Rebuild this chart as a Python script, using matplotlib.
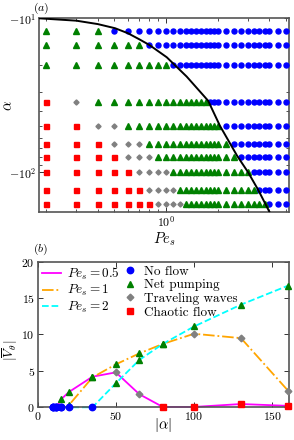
import numpy as np
import matplotlib
matplotlib.use("Agg")
import matplotlib.pyplot as plt
from matplotlib.ticker import FixedLocator, FuncFormatter, NullFormatter, LogLocator
from matplotlib.lines import Line2D

plt.rcParams["font.family"] = "serif"
plt.rcParams["font.serif"] = ["cmr10", "DejaVu Serif"]
plt.rcParams["mathtext.fontset"] = "cm"
plt.rcParams["axes.formatter.use_mathtext"] = True

# ==========================================
# DATA - panel (a) phase diagram
# ==========================================

pe_grid = [0.2, 0.3, 0.4, 0.5, 0.6, 0.7, 0.8, 0.9, 1.0,
           1.1, 1.2, 1.3, 1.4, 1.5, 1.6, 1.7, 1.8, 1.9, 2.0,
           2.25, 2.5, 2.75, 3.0, 3.25, 3.5, 3.75, 4.0, 4.5, 5.0]
alpha_rows = [12, 15, 20, 35, 50, 65, 80, 100, 130, 160]   # |alpha|

# last Pe_s of each regime along every row (0 = regime absent)
chaotic_upto = [0, 0, 0, 0.2, 0.3, 0.4, 0.5, 0.6, 0.7, 0.8]
waves_upto = [0, 0, 0, 0.3, 0.5, 0.7, 0.8, 1.0, 1.1, 1.2]
pumping_upto = [0.4, 0.7, 1.0, 1.7, 2.0, 2.25, 2.5, 3.0, 3.25, 3.75]

# stability boundary
curve_pe = [0.182, 0.30, 0.40, 0.505, 0.60, 0.70, 0.80, 1.01, 1.32, 1.76,
            2.06, 2.60, 3.01, 3.45, 4.0]
curve_alpha = [10.0, 10.36, 10.9, 11.6, 12.5, 13.7, 14.9, 17.9, 23.9, 34.3,
               49.8, 78.3, 100, 130.4, 180]

# ==========================================
# DATA - panel (b) mean velocity
# ==========================================

alpha_b = [10, 12, 15, 20, 35, 50, 65, 80, 100, 130, 160]
v_pe05 = [0, 0, 1.1, 2.1, 4.2, 4.8, 1.8, 0.05, 0.05, 0.45, 0.2]
state_pe05 = ["n", "n", "p", "p", "p", "t", "t", "c", "c", "c", "c"]
v_pe1 = [0, 0, 0, 0.3, 4.1, 5.9, 7.4, 8.7, 10.1, 9.5, 2.3]
state_pe1 = ["n", "n", "n", "p", "p", "p", "p", "p", "t", "t", "t"]
v_pe2 = [0, 0, 0, 0, 0, 3.3, 6.5, 8.7, 11.1, 14.1, 16.7]
state_pe2 = ["n", "n", "n", "n", "n", "p", "p", "p", "p", "p", "p"]

# ==========================================
# STYLES
# ==========================================

styles = {
    "n": dict(marker="o", color="#0000ff", label="No flow"),
    "p": dict(marker="^", color="#008000", label="Net pumping"),
    "t": dict(marker="D", color="#808080", label="Traveling waves"),
    "c": dict(marker="s", color="#ff0000", label="Chaotic flow"),
}
size_a = {"n": 3.6, "p": 3.8, "t": 2.6, "c": 3.6}
size_b = {"n": 4.6, "p": 4.8, "t": 3.4, "c": 4.6}
spine_col = "#555555"

fig = plt.figure(figsize=(2.94, 4.40), dpi=100)


def style_axes(ax):
    for s in ax.spines.values():
        s.set_color(spine_col)
        s.set_linewidth(1.2)
    ax.tick_params(which="both", direction="in", top=True, right=True,
                   color="#333333", labelsize=8.5, pad=2)
    ax.tick_params(which="major", length=3.5, width=0.7)
    ax.tick_params(which="minor", length=2.2, width=0.6)


# ==========================================
# PANEL (a)
# ==========================================

ax1 = fig.add_axes([0.1327, 0.5189, 0.849, 0.4395])

groups = {k: ([], []) for k in styles}
for i, a in enumerate(alpha_rows):
    for pe in pe_grid:
        if pe <= chaotic_upto[i]:
            k = "c"
        elif pe <= waves_upto[i]:
            k = "t"
        elif pe <= pumping_upto[i]:
            k = "p"
        else:
            k = "n"
        groups[k][0].append(pe)
        groups[k][1].append(a)

for k, (xs, ys) in groups.items():
    st = styles[k]
    ax1.plot(xs, ys, ls="none", marker=st["marker"], color=st["color"],
             mec=st["color"], ms=size_a[k], clip_on=False, zorder=3)

ax1.plot(curve_pe, curve_alpha, color="black", lw=1.4, zorder=4)

ax1.set_xscale("log")
ax1.set_yscale("log")
ax1.set_xlim(0.182, 5.18)
ax1.set_ylim(180, 10)
ax1.xaxis.set_major_locator(FixedLocator([1.0]))
ax1.xaxis.set_major_formatter(FuncFormatter(lambda v, p: r"$10^{0}$"))
ax1.xaxis.set_minor_locator(LogLocator(base=10, subs=np.arange(2, 10)))
ax1.xaxis.set_minor_formatter(NullFormatter())
ax1.yaxis.set_major_locator(FixedLocator([10, 100]))
ax1.yaxis.set_major_formatter(
    FuncFormatter(lambda v, p: r"$-10^{%d}$" % round(np.log10(v))))
ax1.yaxis.set_minor_locator(LogLocator(base=10, subs=np.arange(2, 10)))
ax1.yaxis.set_minor_formatter(NullFormatter())
style_axes(ax1)

fig.text(164 / 294, 1 - 239 / 440, r"$Pe_s$", fontsize=10.5,
         ha="center", va="center")
fig.text(8 / 294, 1 - 106 / 440, r"$\alpha$", fontsize=10.5,
         ha="center", va="center", rotation=90)
ax1.text(-0.024, 1.012, r"$(a)$", transform=ax1.transAxes, fontsize=8.5,
         ha="left", va="bottom")

# ==========================================
# PANEL (b)
# ==========================================

ax2 = fig.add_axes([0.128, 0.0743, 0.854, 0.331])

series = [
    (v_pe05, state_pe05, "#ff00ff", "-", r"$Pe_s=0.5$"),
    (v_pe1, state_pe1, "#ffa500", "-.", r"$Pe_s=1$"),
    (v_pe2, state_pe2, "#00ffff", "--", r"$Pe_s=2$"),
]

line_handles = []
for vals, states, col, ls, lab in series:
    h, = ax2.plot(alpha_b, vals, color=col, ls=ls, lw=1.3, label=lab,
                  clip_on=False, zorder=2)
    line_handles.append(h)

for vals, states, col, ls, lab in series:
    for x, y, k in zip(alpha_b, vals, states):
        st = styles[k]
        ax2.plot(x, y, ls="none", marker=st["marker"], color=st["color"],
                 mec=st["color"], ms=size_b[k], clip_on=False, zorder=3)

ax2.set_xlim(0, 160.5)
ax2.set_ylim(0, 20)
ax2.set_xticks([0, 50, 100, 150])
ax2.set_yticks([0, 5, 10, 15, 20])
style_axes(ax2)

fig.text(163 / 294, 1 - 425 / 440, r"$|\alpha|$", fontsize=10.5,
         ha="center", va="center")
fig.text(10 / 294, 1 - 350 / 440, r"$|\overline{V}_\theta|$", fontsize=9.5,
         ha="center", va="center", rotation=90)
ax2.text(-0.019, 1.03, r"$(b)$", transform=ax2.transAxes, fontsize=8.5,
         ha="left", va="bottom")

leg1 = ax2.legend(handles=line_handles, loc="upper left", frameon=False,
                  fontsize=9.5, handlelength=1.5, handletextpad=0.45,
                  labelspacing=0.1, borderaxespad=0.0, borderpad=0.3)
ax2.add_artist(leg1)

marker_handles = [
    Line2D([], [], ls="none", marker=styles[k]["marker"],
           color=styles[k]["color"], ms=size_b[k], label=styles[k]["label"])
    for k in ["n", "p", "t", "c"]
]
ax2.legend(handles=marker_handles, loc="upper left",
           bbox_to_anchor=(0.33, 1.0), frameon=False, fontsize=9.5,
           handlelength=0.8, handletextpad=0.7, labelspacing=0.1,
           borderaxespad=0.0, borderpad=0.3)

fig.savefig("out.png", dpi=100)
